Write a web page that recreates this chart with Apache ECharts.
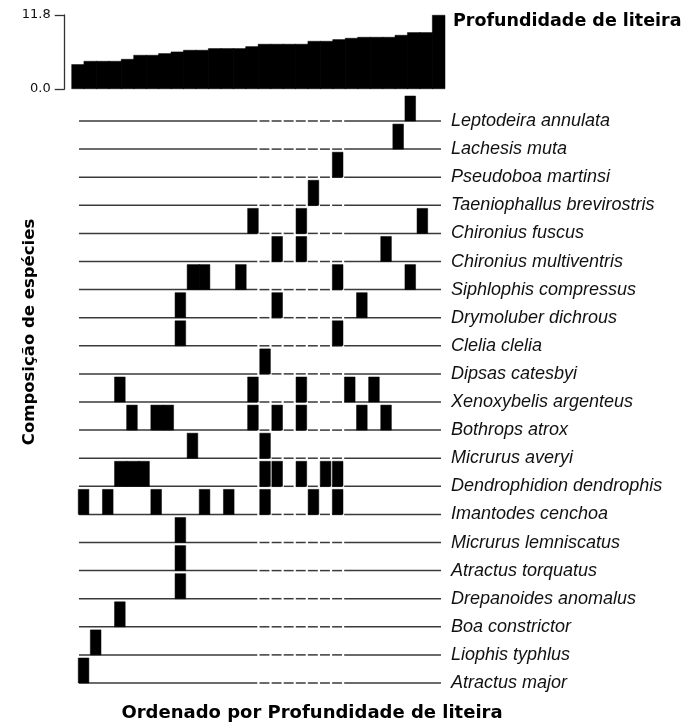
<!DOCTYPE html>
<html><head><meta charset="utf-8">
<script src="https://cdn.jsdelivr.net/npm/echarts@6/dist/echarts.min.js"></script>
<style>html,body{margin:0;padding:0;background:#fff}#c{width:686px;height:727px}</style>
</head><body><div id="c"></div>
<script>
// Litter depth per site, sites ordered by increasing depth
const litterDepth = [3.94,4.46,4.46,4.46,4.78,5.42,5.42,5.69,5.95,6.22,6.22,6.49,6.49,6.49,6.8,
                     7.18,7.18,7.18,7.18,7.65,7.65,7.92,8.13,8.29,8.29,8.29,8.61,9.04,9.04,11.8];
const depthTickLabels = ['0.0', '11.8'];
const depthMax = 11.8;

// Species, top to bottom
const species = [
  'Leptodeira annulata','Lachesis muta','Pseudoboa martinsi','Taeniophallus brevirostris',
  'Chironius fuscus','Chironius multiventris','Siphlophis compressus','Drymoluber dichrous',
  'Clelia clelia','Dipsas catesbyi','Xenoxybelis argenteus','Bothrops atrox','Micrurus averyi',
  'Dendrophidion dendrophis','Imantodes cenchoa','Micrurus lemniscatus','Atractus torquatus',
  'Drepanoides anomalus','Boa constrictor','Liophis typhlus','Atractus major'
];
// Sites (0-based, in depth order) where each species was recorded
const presence = [
  [27],[26],[21],[19],
  [14,18,28],[16,18,25],[9,10,13,21,27],[8,16,23],
  [8,21],[15],[3,14,18,22,24],[4,6,7,14,16,18,23,25],[9,15],
  [3,4,5,15,16,18,20,21],[0,2,6,10,12,15,19,21],[8],[8],
  [8],[3],[1],[0]
];

const xTitle = 'Ordenado por Profundidade de liteira';
const yTitle = 'Composição de espécies';
const topTitle = 'Profundidade de liteira';

const nRows = species.length;
const nSites = litterDepth.length;
const sites = litterDepth.map((_, i) => String(i + 1));

// the middle stretch of sites is drawn site by site, with small gaps
const gapFrom = 15, gapTo = 22;
const marks = [];
species.forEach((name, i) => {
  const row = nRows - 1 - i;
  const cols = presence[i];
  cols.forEach(c => {
    const join = cols.includes(c + 1) && (c + 1 < gapFrom || c + 1 > gapTo) ? 1 : 0;
    marks.push([c, row, join]);
  });
});
const rowData = species.map((_, i) => [0, nRows - 1 - i]);

const segs = [[0.08, gapFrom - 0.18]];
for (let k = gapFrom; k < gapTo; k++) segs.push([k, k + 0.82]);
segs.push([gapTo, nSites]);

const chart = echarts.init(document.getElementById('c'));
chart.setOption({
  animation: false,
  backgroundColor: '#fff',
  grid: [
    { left: 71.7, right: 241, top: 15, bottom: 638 },
    { left: 78, right: 245, top: 92.9, bottom: 44 }
  ],
  xAxis: [
    { gridIndex: 0, type: 'category', data: sites, show: false },
    { gridIndex: 1, type: 'value', min: 0, max: nSites, show: false }
  ],
  yAxis: [
    { gridIndex: 0, type: 'value', min: 0, max: depthMax, interval: depthMax, offset: 7,
      axisLine: { show: true, lineStyle: { color: '#333', width: 1.3 } },
      axisTick: { show: true, length: 10, lineStyle: { color: '#333', width: 1.3 } },
      splitLine: { show: false },
      axisLabel: { margin: 14, fontSize: 13, fontFamily: 'DejaVu Sans', color: '#111',
        formatter: v => (v === 0 ? depthTickLabels[0] : depthTickLabels[1]) } },
    { gridIndex: 1, type: 'value', min: 0, max: nRows, interval: 1, position: 'right',
      axisLine: { show: false }, axisTick: { show: false }, splitLine: { show: false },
      axisLabel: { margin: 10, fontSize: 18, fontStyle: 'italic', fontFamily: 'Liberation Sans, Arial, sans-serif',
        color: '#111', showMaxLabel: true,
        formatter: v => (v < nRows ? species[nRows - 1 - v] : '') } }
  ],
  series: [
    { type: 'bar', xAxisIndex: 0, yAxisIndex: 0, data: litterDepth, barWidth: 13.4,
      itemStyle: { color: '#000', borderColor: '#000', borderWidth: 0.5 } },
    { type: 'custom', xAxisIndex: 1, yAxisIndex: 1, data: rowData, encode: { x: 0, y: 1 },
      renderItem: (params, api) => {
        const r = api.value(1);
        return { type: 'group', children: segs.map(s => {
          const a = api.coord([s[0], r]), b = api.coord([s[1], r]);
          return { type: 'line', shape: { x1: a[0], y1: a[1], x2: b[0], y2: b[1] },
                   style: { stroke: '#3a3a3a', lineWidth: 1.5 } };
        }) };
      } },
    { type: 'custom', xAxisIndex: 1, yAxisIndex: 1, data: marks, encode: { x: 0, y: 1 },
      renderItem: (params, api) => {
        const c = api.value(0), r = api.value(1), joined = api.value(2);
        const p0 = api.coord([c + 0.02, r]);
        const p1 = api.coord([c + (joined ? 1.06 : 0.9), r + 0.89]);
        return { type: 'rect', shape: { x: p0[0], y: p1[1], width: p1[0] - p0[0], height: p0[1] - p1[1] },
                 style: { fill: '#000', stroke: '#000', lineWidth: 0.5 } };
      } }
  ],
  graphic: [
    { type: 'text', x: 453, y: 21, style: { text: topTitle, fontSize: 17.5, fontWeight: 'bold',
      fontFamily: 'DejaVu Sans', fill: '#000', align: 'left', verticalAlign: 'middle' } },
    { type: 'text', x: 312, y: 713.5, style: { text: xTitle, fontSize: 18, fontWeight: 'bold',
      fontFamily: 'DejaVu Sans', fill: '#000', align: 'center', verticalAlign: 'middle' } },
    { type: 'text', x: 30, y: 332, rotation: Math.PI / 2, style: { text: yTitle, fontSize: 16.5,
      fontWeight: 'bold', fontFamily: 'DejaVu Sans', fill: '#000', align: 'center', verticalAlign: 'middle' } }
  ]
});
</script></body></html>
